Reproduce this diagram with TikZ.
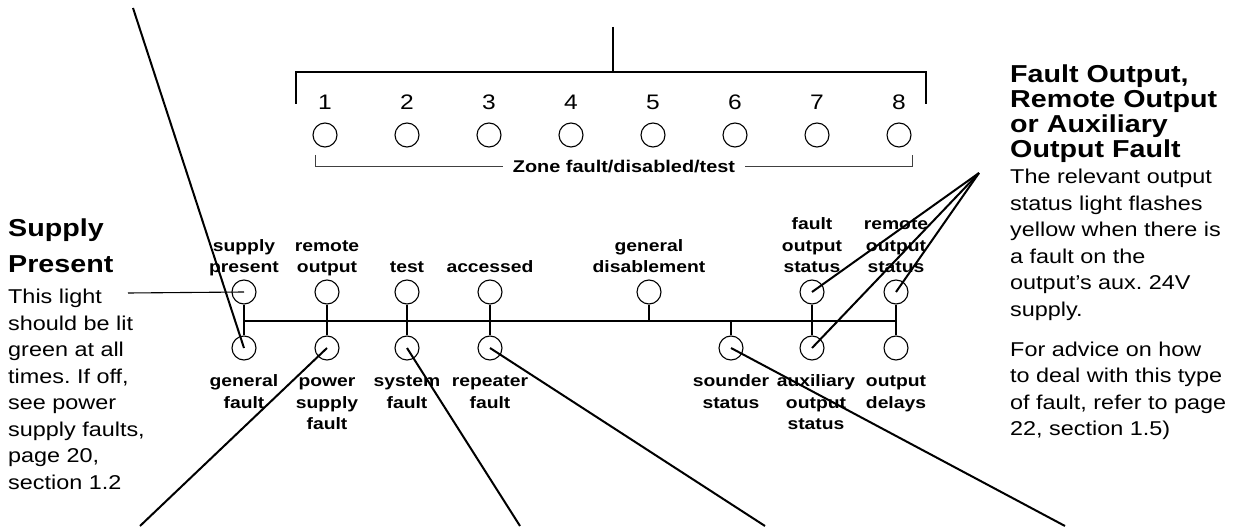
\documentclass[tikz,border=0pt]{standalone}
\usepackage{fontspec}
\newfontfamily\panelfont{Liberation Sans}[FakeStretch=1.17]
\usepackage{tikz}
\usetikzlibrary{positioning}
\newcommand{\hrise}[1]{\rule{0pt}{#1}}
\newcommand{\hsink}[1]{\rule[-#1]{0pt}{#1}}
\frenchspacing

\begin{document}
\begin{tikzpicture}%
	[x={(1pt,0pt)},
	y={(0pt,-1pt)},
	lamp/.style={circle,draw=black,line width=1.1pt,minimum size=24pt,inner sep=0pt},
	bus/.style={draw=black,line width=1.1pt},
	bracket/.style={draw=black,line width=2.6pt},
	zonebar/.style={draw=black!75,line width=1pt},
	leader/.style={draw=black,line width=2pt},
	thinleader/.style={draw=black,line width=1.1pt},
	lbl/.style={inner sep=0pt,align=center,font=\panelfont\bfseries\fontsize{16.5}{21.5}\selectfont},
	digit/.style={inner sep=0pt,font=\panelfont\fontsize{21}{25}\selectfont},
	heading/.style={inner sep=0pt,align=left,anchor=north west,font=\panelfont\bfseries\fontsize{24.5}{#1}\selectfont},
	body/.style={inner sep=0pt,align=left,anchor=north west,font=\panelfont\fontsize{20}{26.5}\selectfont}]
%
\useasboundingbox (0,0) rectangle (1239,529);
%
%% Zone lamps and their bracket
%%
\foreach \i in {1,...,8} {
	\node[lamp] (z\i) at ({243+82*\i},135) {};
	\node[digit, above=13pt of z\i] {\i};
}
\node[lbl, font=\panelfont\bfseries\fontsize{17}{21.5}\selectfont, inner xsep=10pt] (zone) at (624,167) {Zone fault/disabled/test};
\coordinate (zl) at (315,155);
\coordinate (zr) at (912,155);
\draw[zonebar] (zl) -- (zl |- zone) -- (zone.west);
\draw[zonebar] (zone.east) -- (zr |- zone) -- (zr);
%
\coordinate (bl) at (296,104);
\coordinate (br) at (926,104);
\coordinate (bmid) at (613,72);
\coordinate (btop) at (613,27);
\draw[bracket] (bl) -- (bl |- bmid) -- (br |- bmid) -- (br);
\draw[leader] (btop) -- (bmid);
%
%% Upper row of lamps
%%
\node[lamp] (supply) at (244,292) {};
\node[lamp] (remote) at (327,292) {};
\node[lamp] (test) at (407,292) {};
\node[lamp] (accessed) at (490,292) {};
\node[lamp] (disable) at (649,292) {};
\node[lamp] (faultout) at (812,292) {};
\node[lamp] (remoteout) at (896,292) {};
%
\node[lbl, above=0pt of supply] {supply\\present\hsink{6.5pt}};
\node[lbl, above=0pt of remote] {remote\\output\hsink{6.5pt}};
\node[lbl, above=0pt of test] {test\hsink{6.5pt}};
\node[lbl, above=0pt of accessed] {accessed\hsink{6.5pt}};
\node[lbl, above=0pt of disable] {general\\disablement\hsink{6.5pt}};
\node[lbl, above=0pt of faultout] {fault\\output\\status\hsink{6.5pt}};
\node[lbl, above=0pt of remoteout] {remote\\output\\status\hsink{6.5pt}};
%
%% Lower row of lamps
%%
\node[lamp] (genfault) at (244,348) {};
\node[lamp] (psufault) at (327,348) {};
\node[lamp] (sysfault) at (407,348) {};
\node[lamp] (repfault) at (490,348) {};
\node[lamp] (sounder) at (731,348) {};
\node[lamp] (auxout) at (812,348) {};
\node[lamp] (delays) at (896,348) {};
%
\node[lbl, below=11pt of genfault] {\hrise{15pt}general\\fault};
\node[lbl, below=11pt of psufault] {\hrise{15pt}power\\supply\\fault};
\node[lbl, below=11pt of sysfault] {\hrise{15pt}system\\fault};
\node[lbl, below=11pt of repfault] {\hrise{15pt}repeater\\fault};
\node[lbl, below=11pt of sounder] {\hrise{15pt}sounder\\status};
\node[lbl, below=11pt of auxout, xshift=4pt] {\hrise{15pt}auxiliary\\output\\status};
\node[lbl, below=11pt of delays] {\hrise{15pt}output\\delays};
%
%% Bus between the rows
%%
\coordinate (busy) at (0,321);
\draw[bus] (supply |- busy) -- (remoteout |- busy);
\draw[bus] (supply.south) -- (genfault.north);
\draw[bus] (remote.south) -- (psufault.north);
\draw[bus] (test.south) -- (sysfault.north);
\draw[bus] (accessed.south) -- (repfault.north);
\draw[bus] (disable.south) -- (disable |- busy);
\draw[bus] (sounder.north) -- (sounder |- busy);
\draw[bus] (faultout.south) -- (auxout.north);
\draw[bus] (remoteout.south) -- (delays.north);
%
%% Side texts
%%
\node[heading=36.7] (supplyhead) at (8,210.3) {\hrise{25.7pt}Supply\\Present};
\node[body] (supplytext) at (8,284.8) {\hrise{18.5pt}This light\\should be lit\\green at all\\times. If off,\\see power\\supply faults,\\page 20,\\section 1.2};
\node[heading=25] (outhead) at (1010,64.2) {\hrise{17.5pt}Fault Output,\\Remote Output\\or Auxiliary\\Output Fault};
\node[body] (outtext) at (1010,164.8) {\hrise{18.5pt}The relevant output\\status light flashes\\yellow when there is\\a fault on the\\output’s aux. 24V\\supply.\\[13.5pt]For advice on how\\to deal with this type\\of fault, refer to page\\22, section 1.5)};
%
%% Leader lines
%%
\coordinate (spL) at (128,293);
\coordinate (gfT) at (133,8);
\coordinate (psB) at (140,526);
\coordinate (sfB) at (520,526);
\coordinate (rfB) at (765,526);
\coordinate (ssB) at (1065,526);
\coordinate (outF) at (979,173);
\draw[thinleader] (spL) -- (supply.center);
\draw[leader] (gfT) -- (genfault.center);
\draw[leader] (psB) -- (psufault.center);
\draw[leader] (sfB) -- (sysfault.center);
\draw[leader] (rfB) -- (repfault.center);
\draw[leader] (ssB) -- (sounder.center);
\draw[leader] (outF) -- (faultout.center);
\draw[leader] (outF) -- (remoteout.center);
\draw[leader] (outF) -- (auxout.center);
%%
\end{tikzpicture}
\end{document}
